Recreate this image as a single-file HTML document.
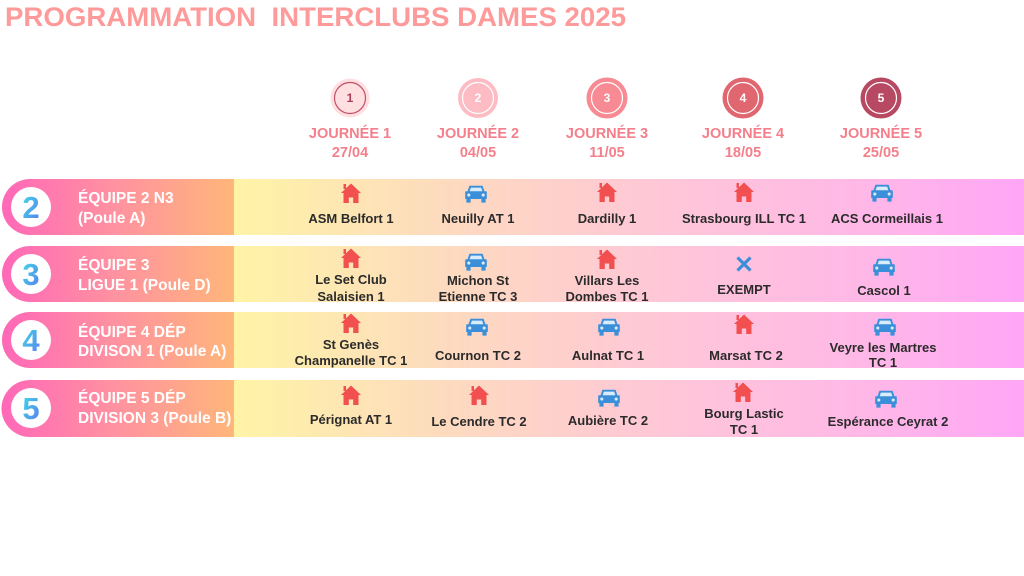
<!DOCTYPE html>
<html><head><meta charset="utf-8"><style>
html,body{margin:0;padding:0;background:#fff;width:1024px;height:576px;overflow:hidden}
svg{display:block}
text{font-family:"Liberation Sans",sans-serif;font-weight:bold}
</style></head><body>
<svg width="1024" height="576" viewBox="0 0 1024 576" xmlns="http://www.w3.org/2000/svg">
<defs>
<linearGradient id="gl" x1="2" y1="0" x2="234" y2="0" gradientUnits="userSpaceOnUse">
<stop offset="0" stop-color="#ff68b8"/><stop offset="0.5" stop-color="#ff939f"/><stop offset="1" stop-color="#ffb67a"/>
</linearGradient>
<linearGradient id="gr" x1="233" y1="0" x2="1024" y2="0" gradientUnits="userSpaceOnUse">
<stop offset="0" stop-color="#fff4a6"/><stop offset="0.25" stop-color="#fddcbd"/><stop offset="0.55" stop-color="#ffc6d8"/><stop offset="0.78" stop-color="#ffb9e6"/><stop offset="1" stop-color="#ffa6f6"/>
</linearGradient>
<linearGradient id="gn" x1="0" y1="0" x2="1" y2="1">
<stop offset="0" stop-color="#3fe0e6"/><stop offset="1" stop-color="#5a78f0"/>
</linearGradient>
<g id="house" fill="#f24f50">
<path d="M0,-10.5 L10,-1 L7.5,-1 L7.5,9 L2.2,9 L2.2,3.5 L-2.2,3.5 L-2.2,9 L-7.5,9 L-7.5,-1 L-10,-1 Z"/>
<rect x="-7.5" y="-10" width="2.5" height="5"/>
</g>
<g id="car0" fill="#3b8fd9">
<path d="M-5.5,-6 L5.5,-6 L7,-1.5 L8.5,-1.5 Q9,-1.5 9,0 L9,5 L-9,5 L-9,0 Q-9,-1.5 -8.5,-1.5 L-7,-1.5 Z"/>
<path d="M-4.3,-4.5 L4.3,-4.5 L5.3,-1.5 L-5.3,-1.5 Z" fill="#d9ecfb"/>
<rect x="-8" y="5" width="3.5" height="3"/><rect x="4.5" y="5" width="3.5" height="3"/>
<circle cx="-6" cy="1.7" r="1.3" fill="#d9ecfb"/><circle cx="6" cy="1.7" r="1.3" fill="#d9ecfb"/>
</g>
<g id="car"><use href="#car0" transform="scale(1.2)"/></g>
</defs>

<text x="5" y="26" font-size="27" fill="#ff9a9a" textLength="621" lengthAdjust="spacingAndGlyphs" xml:space="preserve" style="white-space:pre">PROGRAMMATION  INTERCLUBS DAMES 2025</text>

<!-- day circles -->
<circle cx="350" cy="98" r="19.5" fill="#ffdfe0"/><circle cx="350" cy="98" r="15.5" fill="none" stroke="#c0506c" stroke-width="1.2"/>
<text x="350" y="102" font-size="12" fill="#a83e5c" text-anchor="middle">1</text>
<circle cx="478" cy="98" r="20" fill="#fdbcc4"/><circle cx="478" cy="98" r="15.5" fill="none" stroke="#fff" stroke-width="1.2"/>
<text x="478" y="102" font-size="12" fill="#fff" text-anchor="middle">2</text>
<circle cx="607" cy="98" r="20.5" fill="#f78a92"/><circle cx="607" cy="98" r="15.5" fill="none" stroke="#fff" stroke-width="1.2"/>
<text x="607" y="102" font-size="12" fill="#fff" text-anchor="middle">3</text>
<circle cx="743" cy="98" r="20.5" fill="#e0666f"/><circle cx="743" cy="98" r="15.5" fill="none" stroke="#fff" stroke-width="1.2"/>
<text x="743" y="102" font-size="12" fill="#fff" text-anchor="middle">4</text>
<circle cx="881" cy="98" r="20.5" fill="#b84963"/><circle cx="881" cy="98" r="15.5" fill="none" stroke="#fff" stroke-width="1.2"/>
<text x="881" y="102" font-size="12" fill="#fff" text-anchor="middle">5</text>

<g font-size="14.5" fill="#f47f8b" text-anchor="middle">
<text x="350" y="138">JOURNÉE 1</text><text x="350" y="157">27/04</text>
<text x="478" y="138">JOURNÉE 2</text><text x="478" y="157">04/05</text>
<text x="607" y="138">JOURNÉE 3</text><text x="607" y="157">11/05</text>
<text x="743" y="138">JOURNÉE 4</text><text x="743" y="157">18/05</text>
<text x="881" y="138">JOURNÉE 5</text><text x="881" y="157">25/05</text>
</g>

<!-- rows -->
<g>
<rect x="233" y="179" width="791" height="56" fill="url(#gr)"/>
<path d="M30,179 H234 V235 H30 A28,28 0 0 1 30,179 Z" fill="url(#gl)"/>
<rect x="233" y="246" width="791" height="56" fill="url(#gr)"/>
<path d="M30,246 H234 V302 H30 A28,28 0 0 1 30,246 Z" fill="url(#gl)"/>
<rect x="233" y="312" width="791" height="56" fill="url(#gr)"/>
<path d="M30,312 H234 V368 H30 A28,28 0 0 1 30,312 Z" fill="url(#gl)"/>
<rect x="233" y="380" width="791" height="57" fill="url(#gr)"/>
<path d="M30,380 H234 V437 H30 A28.5,28.5 0 0 1 30,380 Z" fill="url(#gl)"/>
</g>

<!-- badges -->
<circle cx="31" cy="207" r="20" fill="#fff"/><text x="31" y="218" font-size="31" fill="url(#gn)" text-anchor="middle">2</text>
<circle cx="31" cy="274" r="20" fill="#fff"/><text x="31" y="285" font-size="31" fill="url(#gn)" text-anchor="middle">3</text>
<circle cx="31" cy="340" r="20" fill="#fff"/><text x="31" y="351" font-size="31" fill="url(#gn)" text-anchor="middle">4</text>
<circle cx="31" cy="408" r="20" fill="#fff"/><text x="31" y="419" font-size="31" fill="url(#gn)" text-anchor="middle">5</text>

<g font-size="15.5" fill="#fff">
<text x="78" y="203">ÉQUIPE 2 N3</text><text x="78" y="223">(Poule A)</text>
<text x="78" y="270">ÉQUIPE 3</text><text x="78" y="290">LIGUE 1 (Poule D)</text>
<text x="78" y="337">ÉQUIPE 4 DÉP</text><text x="78" y="356">DIVISON 1 (Poule A)</text>
<text x="78" y="403">ÉQUIPE 5 DÉP</text><text x="78" y="423">DIVISION 3 (Poule B)</text>
</g>

<!-- icons -->
<use href="#house" x="351" y="194"/>
<use href="#car" x="476" y="193"/>
<use href="#house" x="607" y="193"/>
<use href="#house" x="744" y="193"/>
<use href="#car" x="882" y="192"/>

<use href="#house" x="351" y="259"/>
<use href="#car" x="476" y="261"/>
<use href="#house" x="607" y="260"/>
<g transform="translate(744,264)" stroke="#3b8fd9" stroke-width="3.2" stroke-linecap="butt"><line x1="-6.5" y1="-6.5" x2="6.5" y2="6.5"/><line x1="6.5" y1="-6.5" x2="-6.5" y2="6.5"/></g>
<use href="#car" x="884" y="266"/>

<use href="#house" x="351" y="324"/>
<use href="#car" x="477" y="326"/>
<use href="#car" x="609" y="326"/>
<use href="#house" x="744" y="325"/>
<use href="#car" x="885" y="326"/>

<use href="#house" x="351" y="396"/>
<use href="#house" x="479" y="396"/>
<use href="#car" x="609" y="397"/>
<use href="#house" x="743" y="393"/>
<use href="#car" x="886" y="398"/>

<!-- cell text -->
<g font-size="13" fill="#2b2b2b" text-anchor="middle">
<text x="351" y="223">ASM Belfort 1</text>
<text x="478" y="223">Neuilly AT 1</text>
<text x="607" y="223">Dardilly 1</text>
<text x="744" y="223">Strasbourg ILL TC 1</text>
<text x="887" y="223">ACS Cormeillais 1</text>

<text x="351" y="284">Le Set Club</text><text x="351" y="301">Salaisien 1</text>
<text x="478" y="285">Michon St</text><text x="478" y="301">Etienne TC 3</text>
<text x="607" y="285">Villars Les</text><text x="607" y="301">Dombes TC 1</text>
<text x="744" y="294">EXEMPT</text>
<text x="884" y="295">Cascol 1</text>

<text x="351" y="349">St Genès</text><text x="351" y="365">Champanelle TC 1</text>
<text x="478" y="360">Cournon TC 2</text>
<text x="608" y="360">Aulnat TC 1</text>
<text x="746" y="360">Marsat TC 2</text>
<text x="883" y="352">Veyre les Martres</text><text x="883" y="367">TC 1</text>

<text x="351" y="424">Pérignat AT 1</text>
<text x="479" y="426">Le Cendre TC 2</text>
<text x="608" y="425">Aubière TC 2</text>
<text x="744" y="418">Bourg Lastic</text><text x="744" y="434">TC 1</text>
<text x="888" y="426">Espérance Ceyrat 2</text>
</g>
</svg>
</body></html>
